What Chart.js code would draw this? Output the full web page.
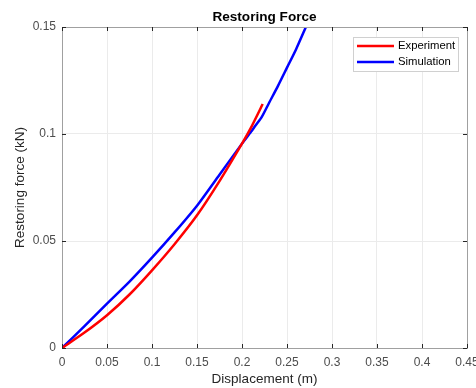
<!DOCTYPE html>
<html>
<head>
<meta charset="utf-8">
<script src="https://cdn.jsdelivr.net/npm/chart.js@4/dist/chart.umd.min.js"></script>
<style>
html,body{margin:0;padding:0;background:#fff;}
#wrap{width:476px;height:388px;}
</style>
</head>
<body>
<div id="wrap"><canvas id="c" width="476" height="388"></canvas></div>
<script>
const chartTitle = "Restoring Force";
const xTitle = "Displacement (m)";
const yTitle = "Restoring force (kN)";
const xTicks = [0, 0.05, 0.1, 0.15, 0.2, 0.25, 0.3, 0.35, 0.4, 0.45];
const yTicks = [0, 0.05, 0.1, 0.15];
const seriesNames = ["Experiment", "Simulation"];
const dispExp  = [0, 0.025, 0.05, 0.075, 0.1, 0.125, 0.15, 0.175, 0.2, 0.21, 0.223];
const forceExp = [0, 0.0072, 0.0153, 0.025, 0.0363, 0.0485, 0.062, 0.078, 0.0955, 0.103, 0.114];
const dispSim  = [0, 0.025, 0.05, 0.075, 0.1, 0.125, 0.15, 0.175, 0.2, 0.21, 0.215, 0.222, 0.23, 0.24, 0.25, 0.26, 0.271];
const forceSim = [0, 0.0102, 0.0207, 0.031, 0.0422, 0.054, 0.0665, 0.081, 0.0955, 0.101, 0.104, 0.108, 0.1145, 0.1225, 0.131, 0.1395, 0.150];

const toPts = (xs, ys) => xs.map((x, i) => ({x: x, y: ys[i]}));
const FONT = "'Liberation Sans', Arial, sans-serif";

const boxPlugin = {
  id: 'box',
  afterDraw(chart) {
    const {ctx, chartArea: a, scales} = chart;
    ctx.save();
    ctx.strokeStyle = '#a0a0a0';
    ctx.lineWidth = 1;
    ctx.strokeRect(Math.round(a.left) + 0.5, Math.round(a.top) + 0.5, Math.round(a.right - a.left), Math.round(a.bottom - a.top));
    ctx.strokeStyle = '#262626';
    ctx.beginPath();
    xTicks.forEach(v => {
      const px = Math.round(scales.x.getPixelForValue(v)) + 0.5;
      ctx.moveTo(px, a.bottom); ctx.lineTo(px, a.bottom - 4);
      ctx.moveTo(px, a.top); ctx.lineTo(px, a.top + 4);
    });
    yTicks.forEach(v => {
      const py = Math.round(scales.y.getPixelForValue(v)) + 0.5;
      ctx.moveTo(a.left, py); ctx.lineTo(a.left + 4, py);
      ctx.moveTo(a.right, py); ctx.lineTo(a.right - 4, py);
    });
    ctx.stroke();
    ctx.fillStyle = '#000';
    ctx.font = 'bold 13.6px ' + FONT;
    ctx.textAlign = 'center';
    ctx.textBaseline = 'middle';
    ctx.fillText(chartTitle, (a.left + a.right) / 2, 17);
    const lx = 353, ly = 37, lw = 105, lh = 34;
    ctx.fillStyle = '#fff';
    ctx.fillRect(lx, ly, lw, lh);
    ctx.lineWidth = 1;
    ctx.strokeStyle = '#d0d0d0';
    ctx.strokeRect(lx + 0.5, ly + 0.5, lw, lh);
    ctx.font = '11.3px ' + FONT;
    ctx.textAlign = 'left';
    chart.data.datasets.forEach((ds, i) => {
      const y = ly + 9 + i * 16;
      ctx.strokeStyle = ds.borderColor;
      ctx.lineWidth = 2.5;
      ctx.beginPath(); ctx.moveTo(357, y); ctx.lineTo(394, y); ctx.stroke();
      ctx.fillStyle = '#000';
      ctx.fillText(ds.label, 398, y);
    });
    ctx.restore();
  }
};

new Chart(document.getElementById('c'), {
  type: 'line',
  data: {
    datasets: [
      {label: seriesNames[0], data: toPts(dispExp, forceExp), borderColor: '#ff0000', borderWidth: 2.5, pointRadius: 0, tension: 0.25, fill: false},
      {label: seriesNames[1], data: toPts(dispSim, forceSim), borderColor: '#0000ff', borderWidth: 2.5, pointRadius: 0, tension: 0.25, fill: false}
    ]
  },
  options: {
    responsive: false,
    animation: false,
    devicePixelRatio: 1,
    layout: {padding: {top: 27, right: 9, bottom: 0, left: 0}},
    plugins: {legend: {display: false}, title: {display: false}, tooltip: {enabled: false}},
    scales: {
      x: {
        type: 'linear', min: 0, max: 0.45,
        afterBuildTicks: s => { s.ticks = xTicks.map(v => ({value: v})); },
        afterFit: s => { s.height = 40; s.paddingLeft = 0; s.paddingRight = 0; },
        grid: {color: '#ebebeb', drawTicks: false},
        border: {display: false},
        ticks: {padding: 7, color: '#4d4d4d', font: {family: FONT, size: 12}, maxRotation: 0, autoSkip: false,
                callback: v => String(v)},
        title: {display: true, text: xTitle, color: '#262626', font: {family: FONT, size: 13.5}, padding: {top: 0, bottom: 1}}
      },
      y: {
        type: 'linear', min: 0, max: 0.15,
        afterBuildTicks: s => { s.ticks = yTicks.map(v => ({value: v})); },
        afterFit: s => { s.width = 62; s.paddingTop = 0; s.paddingBottom = 0; },
        grid: {color: '#ebebeb', drawTicks: false},
        border: {display: false},
        ticks: {padding: 6, color: '#4d4d4d', font: {family: FONT, size: 12}, autoSkip: false,
                callback: v => String(v)},
        title: {display: true, text: yTitle, color: '#262626', font: {family: FONT, size: 13.5}, padding: {top: 12, bottom: 0}}
      }
    }
  },
  plugins: [boxPlugin]
});
</script>
</body>
</html>
